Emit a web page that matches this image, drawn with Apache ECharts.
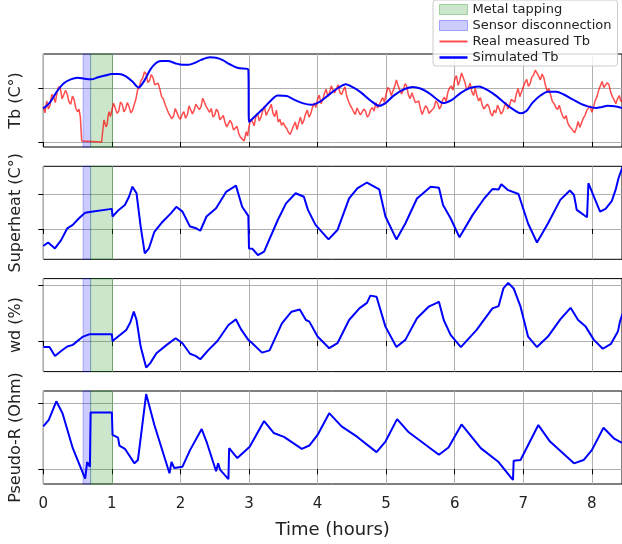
<!DOCTYPE html>
<html>
<head>
<meta charset="utf-8">
<script src="https://cdn.jsdelivr.net/npm/echarts@6/dist/echarts.min.js"></script>
<style>
html,body{margin:0;padding:0;background:#fff}
#chart{width:622px;height:544px}
</style>
</head>
<body>
<div id="chart"></div>
<script>
// shaded periods (hours)
var sensorSpan = [0.58, 0.69];
var tappingSpan = [0.69, 1.01];

var yNames = ["Tb (C°)", "Superheat (C°)", "wd (%)", "Pseudo-R (Ohm)"];

// values are in relative units: 0 = lower tick, 10 = upper tick
var tbReal = [[0,6.5],[0.025,5.4],[0.05,7.6],[0.075,6.1],[0.1,6.9],[0.125,8.8],[0.15,8.4],[0.175,7.3],[0.2,9.1],[0.225,10.3],[0.25,9.8],[0.275,8],[0.3,8.2],[0.325,9.6],[0.35,8.8],[0.375,7.4],[0.4,7],[0.425,8.5],[0.45,7.8],[0.475,6.2],[0.5,5.6],[0.52,6.1],[0.54,4.7],[0.56,0.2],[0.58,0],[0.85,0],[0.87,2.4],[0.885,4.1],[0.9,3.9],[0.915,2.8],[0.93,3.2],[0.945,4.8],[0.96,5.6],[0.98,4.7],[1,5.9],[1.025,7.2],[1.05,6.9],[1.075,5.3],[1.1,5.7],[1.125,7.4],[1.15,7],[1.175,5.6],[1.2,6.1],[1.225,7.3],[1.25,6.6],[1.275,5.4],[1.3,5.8],[1.325,6.9],[1.35,7.9],[1.375,9.6],[1.4,10.2],[1.425,11.4],[1.45,11.8],[1.475,13],[1.5,12.6],[1.525,11],[1.55,11.4],[1.575,12.5],[1.6,11.9],[1.625,10.6],[1.65,10.3],[1.675,10.9],[1.7,9.8],[1.725,8.4],[1.75,8],[1.775,7],[1.8,6.7],[1.825,5.4],[1.85,5.6],[1.875,4.3],[1.9,4.8],[1.925,6.2],[1.95,5.9],[1.975,4.6],[2,4.2],[2.025,5.1],[2.05,5.6],[2.075,4.4],[2.1,5],[2.125,6.7],[2.15,6.4],[2.175,5.2],[2.2,5.9],[2.225,7],[2.25,7.3],[2.275,6],[2.3,6.5],[2.325,8.1],[2.35,7.9],[2.375,6.6],[2.4,6.8],[2.425,5.5],[2.45,6.2],[2.475,4.6],[2.5,5],[2.525,6.1],[2.55,5.6],[2.575,4.1],[2.6,4.2],[2.625,4.9],[2.65,3.6],[2.675,2.8],[2.7,2.9],[2.725,4],[2.75,3.4],[2.775,2.2],[2.8,2],[2.825,2.9],[2.85,1.6],[2.875,0.9],[2.9,0.8],[2.93,0.2],[2.96,1.9],[2.98,1.1],[3,2.9],[3.025,4.2],[3.05,3.8],[3.075,3],[3.1,4.7],[3.125,5.3],[3.15,3.9],[3.175,4.6],[3.2,5.8],[3.225,6.6],[3.25,4.9],[3.275,5.6],[3.3,6.2],[3.325,7],[3.35,5.3],[3.375,4.7],[3.4,5.9],[3.425,3.7],[3.45,4.2],[3.475,3.1],[3.5,3.6],[3.525,2.9],[3.55,2.5],[3.575,1.8],[3.6,1.4],[3.625,2.2],[3.65,3],[3.675,3.7],[3.7,2.3],[3.725,3.5],[3.75,4.6],[3.775,3.3],[3.8,4],[3.825,5.2],[3.85,5.9],[3.875,4.6],[3.9,5.2],[3.925,6.4],[3.95,7.2],[3.975,6.4],[4,7.9],[4.025,8.7],[4.05,7.1],[4.075,7.8],[4.1,9],[4.125,9.8],[4.15,8.4],[4.175,9.1],[4.2,10.4],[4.225,9.6],[4.25,9.1],[4.275,9.9],[4.3,10.6],[4.325,9.2],[4.35,8.8],[4.375,9.6],[4.4,10.2],[4.425,8.5],[4.45,7.6],[4.475,6.8],[4.5,6.3],[4.525,5.6],[4.55,5.1],[4.575,6.3],[4.6,6],[4.625,5],[4.65,4.9],[4.675,6.1],[4.7,5.7],[4.725,4.6],[4.75,5],[4.775,6],[4.8,6.4],[4.825,5.7],[4.85,7.3],[4.875,6.3],[4.9,6.5],[4.925,7.6],[4.95,8.2],[4.975,7.4],[5,8.9],[5.025,10.1],[5.05,9.7],[5.075,8.6],[5.1,8.8],[5.125,10.3],[5.15,11.5],[5.175,10.4],[5.2,10.2],[5.225,8.9],[5.25,9.6],[5.275,10.8],[5.3,10.4],[5.325,8.7],[5.35,8],[5.375,9.1],[5.4,8.8],[5.425,7.3],[5.45,7],[5.475,7.6],[5.5,6.2],[5.525,5.1],[5.55,5.4],[5.575,6.7],[5.6,6.3],[5.625,5.3],[5.65,5],[5.675,6],[5.7,6.4],[5.725,7.6],[5.75,7.2],[5.775,6.1],[5.8,6.6],[5.825,7.8],[5.85,8.3],[5.875,7.5],[5.9,9.2],[5.925,10],[5.95,10.4],[5.975,9.6],[6,11.6],[6.025,12.3],[6.05,10.5],[6.075,11.4],[6.1,12.8],[6.125,11.9],[6.15,11],[6.175,9.7],[6.2,10.1],[6.225,10.9],[6.25,9.3],[6.275,8.6],[6.3,9.9],[6.325,8.5],[6.35,7.6],[6.375,8.2],[6.4,6.9],[6.425,6.1],[6.45,5.8],[6.475,7],[6.5,6.5],[6.525,5.3],[6.55,4.8],[6.575,5.9],[6.6,5.4],[6.625,6.8],[6.65,6.1],[6.675,5.2],[6.7,5.6],[6.725,6.6],[6.75,7.3],[6.775,6.1],[6.8,6.8],[6.825,7.9],[6.85,8.2],[6.875,7.4],[6.9,9],[6.925,9.9],[6.95,8.4],[6.975,9.3],[7,10.2],[7.025,11],[7.05,11.6],[7.075,10.3],[7.1,10.8],[7.125,12],[7.15,12.4],[7.175,13.3],[7.2,13.1],[7.225,12.2],[7.25,11.5],[7.275,12.6],[7.3,11.9],[7.325,10.4],[7.35,9.4],[7.375,9.9],[7.4,8.6],[7.425,7.5],[7.45,7.1],[7.475,6.4],[7.5,6],[7.525,6.8],[7.55,5.7],[7.575,4.8],[7.6,4.3],[7.625,4.9],[7.65,3.5],[7.675,2.9],[7.7,2.6],[7.725,2.1],[7.75,1.7],[7.775,2.6],[7.8,3.8],[7.825,2.7],[7.85,3],[7.875,4.4],[7.9,4.9],[7.925,5.8],[7.95,6],[7.975,6.7],[8,5.5],[8.025,6.5],[8.05,7.7],[8.075,8.4],[8.1,9.6],[8.125,10.4],[8.15,11.2],[8.175,10.1],[8.2,9.9],[8.225,11],[8.25,10.6],[8.275,9.2],[8.3,8.4],[8.325,7.8],[8.35,7.1],[8.375,8],[8.4,8.6],[8.425,7.5],[8.45,7.8]];

var tbSim = [[0,6.2],[0.1,7.4],[0.2,9.4],[0.3,10.9],[0.4,11.6],[0.5,11.9],[0.6,11.7],[0.7,11.6],[0.8,12],[0.9,12.3],[1,12.6],[1.1,12.6],[1.2,12.2],[1.3,11.2],[1.39,10.1],[1.48,11.5],[1.56,13.4],[1.64,14.6],[1.72,15],[1.82,15],[1.92,14.6],[2.03,14.3],[2.12,14.3],[2.2,14.6],[2.3,15.2],[2.43,15.7],[2.52,15.6],[2.61,15.2],[2.72,14.4],[2.84,13.7],[2.99,13.4],[3,3.7],[3.1,4.9],[3.2,6.1],[3.32,7.7],[3.42,8.6],[3.55,8.5],[3.65,7.9],[3.78,7.2],[3.91,6.9],[4.04,7.5],[4.17,8.8],[4.3,10],[4.41,10.7],[4.52,10.1],[4.64,9.1],[4.78,7.6],[4.9,6.7],[5,7.3],[5.1,8.5],[5.25,9.7],[5.39,10.2],[5.5,9.9],[5.62,9.1],[5.72,8.1],[5.83,7.2],[5.96,7.8],[6.09,9.1],[6.22,10],[6.35,10.3],[6.48,9.6],[6.61,8.5],[6.75,7],[6.88,5.8],[6.96,5.3],[7.05,5.8],[7.13,7.2],[7.25,8.6],[7.36,9.3],[7.48,9.3],[7.59,8.8],[7.72,7.9],[7.85,7],[7.94,6.6],[8.06,6.3],[8.15,6.5],[8.23,6.7],[8.33,6.6],[8.44,6.3]];

var superheat = [[0,-4.9],[0.07,-3.9],[0.17,-5.6],[0.26,-3.2],[0.35,0.2],[0.43,1.2],[0.52,3.1],[0.61,4.7],[0.7,5],[1,5.8],[1.01,3.6],[1.1,5.5],[1.19,6.9],[1.25,9.3],[1.3,12.2],[1.36,10.3],[1.42,0.7],[1.48,-7],[1.54,-5.6],[1.62,-0.8],[1.74,2.1],[1.86,4.5],[1.94,6.4],[2.03,5],[2.14,0.7],[2.23,0.2],[2.29,-0.5],[2.38,3.6],[2.52,6],[2.67,10.8],[2.81,12.5],[2.9,6.4],[2.99,3.8],[3,-5.6],[3.05,-5.7],[3.13,-7.5],[3.22,-6.5],[3.42,2.6],[3.54,7.4],[3.68,10.3],[3.8,9.3],[3.86,5.5],[3.88,5],[3.97,1.2],[4.16,-3],[4.29,-0.3],[4.46,8.8],[4.58,11.7],[4.72,13.4],[4.9,11.4],[4.99,3.6],[5.15,-3],[5.28,1.6],[5.45,8.8],[5.65,12.2],[5.77,11.9],[5.83,6.9],[5.94,3.1],[6.07,-2.4],[6.26,4],[6.43,8.8],[6.55,11.5],[6.64,11.4],[6.68,12.9],[6.78,11.2],[6.93,10.1],[7.07,1.6],[7.2,-3.9],[7.36,1.6],[7.54,8.4],[7.68,11.1],[7.74,9.8],[7.78,5.5],[7.93,3.4],[7.95,13.2],[8.03,9.3],[8.12,5],[8.2,5.8],[8.29,8],[8.35,11.5],[8.39,14.7],[8.45,18]];

var wd = [[0,-1.1],[0.09,-1.1],[0.17,-2.7],[0.26,-1.8],[0.35,-1],[0.43,-0.7],[0.58,0.8],[0.67,1.2],[1,1.2],[1.01,0],[1.1,0.9],[1.21,2],[1.27,3.4],[1.32,5.3],[1.36,3.8],[1.42,-1],[1.5,-4.8],[1.56,-4],[1.65,-2.2],[1.8,-0.7],[1.93,0.5],[2.03,-0.4],[2.14,-2.3],[2.22,-2.7],[2.29,-3.3],[2.41,-1.6],[2.54,0],[2.7,2.9],[2.81,3.9],[2.88,2.2],[2.99,0.2],[3.04,-0.3],[3.19,-2.1],[3.3,-1.7],[3.48,3.2],[3.62,5.3],[3.74,5.7],[3.83,3.8],[3.88,3.5],[4,0.8],[4.17,-1.3],[4.29,-0.4],[4.46,3.8],[4.61,5.9],[4.72,6.9],[4.77,8.2],[4.86,8],[4.99,2.6],[5.15,-1.1],[5.28,0.2],[5.45,4.1],[5.62,6.2],[5.74,6.9],[5.77,7.1],[5.84,3.8],[5.94,1.1],[6.09,-1.1],[6.32,2],[6.55,5.9],[6.64,6.3],[6.71,9.5],[6.78,10.5],[6.86,9.5],[6.96,6.2],[7.07,0.8],[7.2,-1.1],[7.36,0.8],[7.54,3.9],[7.69,6],[7.8,3.8],[7.91,2.6],[8.03,0.2],[8.16,-1.4],[8.28,-0.5],[8.38,1.7],[8.41,3.5],[8.45,5]];

var pseudoR = [[0,6.5],[0.08,7.5],[0.19,10.3],[0.28,8.5],[0.43,3.2],[0.61,-1.4],[0.64,1.1],[0.68,0.4],[0.69,8.6],[1,8.6],[1.01,5.2],[1.09,4.8],[1.11,3.6],[1.19,3.1],[1.33,0.9],[1.38,1.4],[1.5,11.4],[1.62,6.7],[1.84,-0.6],[1.87,1.1],[1.91,0.2],[2.03,0.4],[2.14,2.9],[2.31,6.1],[2.38,4.2],[2.52,-0.3],[2.55,0.9],[2.58,-0.1],[2.7,-1.5],[2.71,3.2],[2.83,1.7],[3.01,3.4],[3.22,7.3],[3.36,5.5],[3.51,4.9],[3.77,3.1],[3.88,3.6],[4,5.2],[4.17,8.5],[4.35,6.5],[4.58,4.9],[4.86,2.6],[4.99,4.2],[5.16,7.6],[5.33,5.6],[5.77,2.2],[5.91,3.3],[6.1,6.8],[6.38,3.2],[6.64,1.1],[6.81,-1.1],[6.85,-1.6],[6.86,1.3],[6.96,1.4],[7.22,6.7],[7.39,4.2],[7.74,0.9],[7.88,1.4],[8,2.9],[8.17,6.3],[8.32,4.7],[8.44,4]];

// panel layout
var panelTop = [54, 166.3, 278.6, 391];
var panelH = 93;
var yRange = [[-0.93, 16.3], [-8.73, 18.07], [-5.53, 11.28], [-2.23, 11.86]];

var chart = echarts.init(document.getElementById("chart"));

var grids = [], xAxes = [], yAxes = [], series = [];
for (var i = 0; i < 4; i++) {
  var last = i == 3;
  grids.push({left: 43.3, right: 0, top: panelTop[i], height: panelH, show: true, borderColor: "#000", borderWidth: 1, backgroundColor: "transparent"});
  xAxes.push({
    type: "value", gridIndex: i, min: 0, max: 8.44, interval: 1,
    axisLine: {show: false},
    axisTick: {show: true, inside: false, length: 5, lineStyle: {color: "#000", width: 1}},
    axisLabel: {show: last, showMaxLabel: false, fontSize: 15, color: "#222", fontFamily: "DejaVu Sans", margin: 13},
    splitLine: {show: true, lineStyle: {color: "#b0b0b0", width: 1}},
    name: last ? "Time (hours)" : "", nameLocation: "middle", nameGap: 37,
    nameTextStyle: {fontSize: 18, color: "#222", fontFamily: "DejaVu Sans"}
  });
  yAxes.push({
    type: "value", gridIndex: i, min: yRange[i][0], max: yRange[i][1],
    axisLine: {show: false},
    axisTick: {show: true, length: 5, customValues: [0, 10], lineStyle: {color: "#000", width: 1}},
    axisLabel: {show: false, customValues: [0, 10]},
    splitLine: {show: true, lineStyle: {color: "#b0b0b0", width: 1}},
    name: yNames[i], nameLocation: "middle", nameRotate: 90, nameGap: 19,
    nameTextStyle: {fontSize: 16, color: "#222", fontFamily: "DejaVu Sans"}
  });
  series.push({
    name: "Sensor disconnection", type: "line", xAxisIndex: i, yAxisIndex: i, data: [],
    itemStyle: {color: "rgba(0,0,255,0.2)"},
    markArea: {silent: true, itemStyle: {color: "rgba(0,0,255,0.2)", borderColor: "rgba(0,0,255,0.25)", borderWidth: 1},
      data: [[{xAxis: sensorSpan[0]}, {xAxis: sensorSpan[1]}]]}
  });
  series.push({
    name: "Metal tapping", type: "line", xAxisIndex: i, yAxisIndex: i, data: [],
    itemStyle: {color: "rgba(0,128,0,0.2)"},
    markArea: {silent: true, itemStyle: {color: "rgba(0,128,0,0.2)", borderColor: "rgba(0,128,0,0.25)", borderWidth: 1},
      data: [[{xAxis: tappingSpan[0]}, {xAxis: tappingSpan[1]}]]}
  });
}

series.push({name: "Real measured Tb", type: "line", xAxisIndex: 0, yAxisIndex: 0, data: tbReal, symbol: "none",
  lineStyle: {color: "rgba(255,0,0,0.7)", width: 1.5}, itemStyle: {color: "rgba(255,0,0,0.7)"}});
series.push({name: "Simulated Tb", type: "line", xAxisIndex: 0, yAxisIndex: 0, data: tbSim, symbol: "none", smooth: 0.3,
  lineStyle: {color: "#0000ff", width: 2}, itemStyle: {color: "#0000ff"}});
series.push({name: "Superheat", type: "line", xAxisIndex: 1, yAxisIndex: 1, data: superheat, symbol: "none",
  lineStyle: {color: "#0000ff", width: 2}});
series.push({name: "wd", type: "line", xAxisIndex: 2, yAxisIndex: 2, data: wd, symbol: "none",
  lineStyle: {color: "#0000ff", width: 2}});
series.push({name: "Pseudo-R", type: "line", xAxisIndex: 3, yAxisIndex: 3, data: pseudoR, symbol: "none",
  lineStyle: {color: "#0000ff", width: 2}});

var option = {
  animation: false,
  backgroundColor: "#fff",
  grid: grids,
  xAxis: xAxes,
  yAxis: yAxes,
  legend: {
    orient: "vertical", left: 433, top: 0, padding: [3, 6, 2, 6],
    itemWidth: 28, itemHeight: 10, itemGap: 3,
    backgroundColor: "rgba(255,255,255,0.8)", borderColor: "#ccc", borderWidth: 1, borderRadius: 3,
    textStyle: {fontSize: 13, color: "#222", fontFamily: "DejaVu Sans"},
    data: [
      {name: "Metal tapping", icon: "rect", itemStyle: {color: "rgba(0,128,0,0.2)", borderColor: "rgba(0,128,0,0.3)", borderWidth: 1}},
      {name: "Sensor disconnection", icon: "rect", itemStyle: {color: "rgba(0,0,255,0.2)", borderColor: "rgba(0,0,255,0.3)", borderWidth: 1}},
      {name: "Real measured Tb", icon: "path://M0,0L28,0L28,2L0,2Z", itemStyle: {color: "rgba(255,0,0,0.7)"}},
      {name: "Simulated Tb", icon: "path://M0,0L28,0L28,2.5L0,2.5Z", itemStyle: {color: "#0000ff"}}
    ]
  },
  series: series
};
chart.setOption(option);
</script>
</body>
</html>
